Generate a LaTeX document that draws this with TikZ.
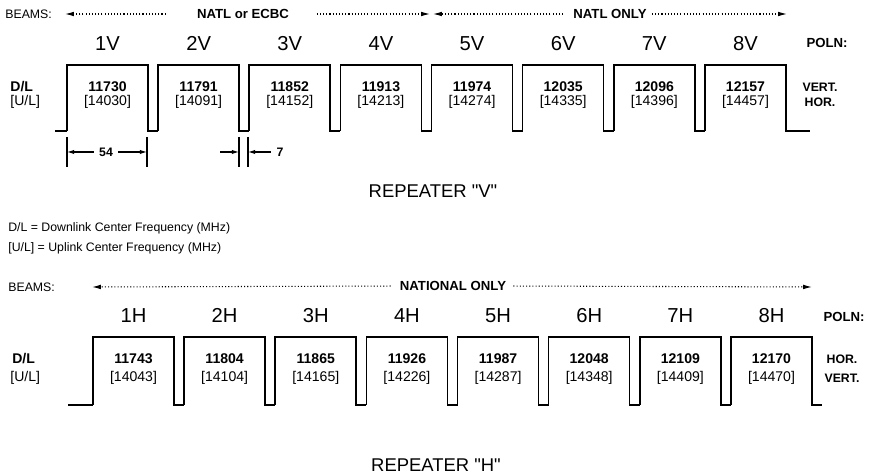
\documentclass[tikz,border=0pt]{standalone}
\usepackage{fontspec}
\setmainfont{Liberation Sans}
\usetikzlibrary{arrows.meta}

\begin{document}
\begin{tikzpicture}[
        x=0.02cm, y=-0.02cm,
        wave/.style={line width=0.9pt, line join=miter},
        chan/.style={font=\fontsize{11.5}{13}\selectfont, text height=8.3pt, text depth=0pt},
        freq/.style={font=\fontsize{8}{9}\selectfont\bfseries},
        upfreq/.style={font=\fontsize{8}{9}\selectfont},
        small/.style={font=\fontsize{7}{8}\selectfont, inner sep=0pt},
        smallbf/.style={font=\fontsize{7.5}{9}\selectfont\bfseries, inner sep=0pt},
        title/.style={font=\fontsize{10.5}{12}\selectfont},
        beam/.style={line width=0.6pt, dash pattern=on 0.6pt off 1.2pt,
        -{Latex[length=5pt,width=2.6pt]}},
        dim/.style={line width=0.6pt, -{Latex[length=4pt,width=2.4pt]}},
        dimlabel/.style={font=\fontsize{7}{8}\selectfont\bfseries, inner sep=3pt},
        ]

        \useasboundingbox (0,0) rectangle (872,475);

        % repeater V
        \node (vbeams) [small, anchor=west] at (5,14){BEAMS:};
        \node (vnatl) [smallbf] at (243,14){NATL or ECBC};
        \node (vonly) [smallbf] at (610,14){NATL ONLY};
        \coordinate (vb1) at (65,14);
        \coordinate (vb2) at (430,14);
        \coordinate (vb3) at (433,14);
        \coordinate (vb4) at (787,14);
        \draw [beam, shorten <=0.62cm] (vnatl.west) -- (vb1);
        \draw [beam, shorten <=0.55cm] (vnatl.east) -- (vb2);
        \draw [beam, shorten <=0.2cm] (vonly.west) -- (vb3);
        \draw [beam, shorten <=0.1cm] (vonly.east) -- (vb4);

        \node (vpoln) [smallbf] at (827,43){POLN:};
        \node (vdl) [smallbf, font=\fontsize{8}{9}\selectfont\bfseries, anchor=west] at (10,87){D/L};
        \node (vul) [small, font=\fontsize{8}{9}\selectfont, anchor=west] at (10,102){[U/L]};
        \node (vvert) [smallbf, font=\fontsize{7}{9}\selectfont\bfseries] at (820,87){VERT.};
        \node (vhor) [smallbf, font=\fontsize{7}{9}\selectfont\bfseries] at (820,102){HOR.};

        \draw [wave] (55,131) -- (67,131);
        \foreach \i/\dl/\ul in {1/11730/14030,2/11791/14091,3/11852/14152,4/11913/14213,
        5/11974/14274,6/12035/14335,7/12096/14396,8/12157/14457}{
            \pgfmathsetmacro\xl{67+91.14*(\i-1)}
            \pgfmathsetmacro\xr{\xl+81}
            \pgfmathsetmacro\xc{\xl+40.5}
            \draw [wave] (\xl,131) -- (\xl,65) -- (\xr,65) -- (\xr,131) -- (\xr+10.14,131);
            \node (v\i) [chan] at (\xc,43){\i V};
            \node (vdl\i) [freq] at (\xc,87){\dl};
            \node (vul\i) [upfreq] at (\xc,102){[\ul]};
        }
        \draw [wave] (787,131) -- (810,131);

        % channel width and guard band
        \coordinate (t1) at (67,152);
        \coordinate (t2) at (147,152);
        \coordinate (t3) at (239,152);
        \coordinate (t4) at (248,152);
        \coordinate (g1) at (220,152);
        \draw [line width=0.7pt] (67,137) -- (67,167) (147,137) -- (147,167)
            (239,137) -- (239,167) (248,137) -- (248,167);
        \node (w54) [dimlabel] at (106,152){54};
        \node (w7) [dimlabel] at (280,152){7};
        \draw [dim] (w54.west) -- (t1);
        \draw [dim] (w54.east) -- (t2);
        \draw [dim] (g1) -- (t3);
        \draw [dim] (w7.west) -- (t4);

        \node (reptv) [title] at (433,191){REPEATER \textquotedbl V\textquotedbl};
        \node (key1) [small, anchor=west] at (8,228){D/L = Downlink Center Frequency (MHz)};
        \node (key2) [small, anchor=west] at (8,248){[U/L] = Uplink Center Frequency (MHz)};

        % repeater H
        \node (hbeams) [small, anchor=west] at (8,287){BEAMS:};
        \node (hnatl) [smallbf] at (453,286){NATIONAL ONLY};
        \coordinate (hb1) at (92,287);
        \coordinate (hb2) at (812,287);
        \draw [beam, shorten <=0.18cm] (hnatl.west) -- (hb1);
        \draw [beam, shorten <=0.14cm] (hnatl.east) -- (hb2);

        \node (hpoln) [smallbf] at (844,317){POLN:};
        \node (hdl) [smallbf, font=\fontsize{8}{9}\selectfont\bfseries, anchor=west] at (12,359){D/L};
        \node (hul) [small, font=\fontsize{8}{9}\selectfont, anchor=west] at (10,378){[U/L]};
        \node (hhor) [smallbf, font=\fontsize{7}{9}\selectfont\bfseries] at (842,359){HOR.};
        \node (hvert) [smallbf, font=\fontsize{7}{9}\selectfont\bfseries] at (842,378){VERT.};

        \draw [wave] (68,405) -- (93,405);
        \foreach \i/\dl/\ul in {1/11743/14043,2/11804/14104,3/11865/14165,4/11926/14226,
        5/11987/14287,6/12048/14348,7/12109/14409,8/12170/14470}{
            \pgfmathsetmacro\xl{93+91.14*(\i-1)}
            \pgfmathsetmacro\xr{\xl+81}
            \pgfmathsetmacro\xc{\xl+40.5}
            \draw [wave] (\xl,405) -- (\xl,337) -- (\xr,337) -- (\xr,405) -- (\xr+10.14,405);
            \node (h\i) [chan] at (\xc,315){\i H};
            \node (hdl\i) [freq] at (\xc,359){\dl};
            \node (hul\i) [upfreq] at (\xc,378){[\ul]};
        }

        \node (repth) [title] at (436,465){REPEATER \textquotedbl H\textquotedbl};
    \end{tikzpicture}
\end{document}
